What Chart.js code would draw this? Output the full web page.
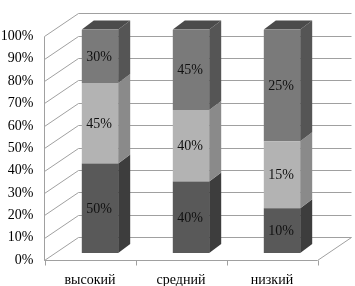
<!DOCTYPE html>
<html>
<head>
<meta charset="utf-8">
<script src="https://cdn.jsdelivr.net/npm/chart.js@4.4.1/dist/chart.umd.min.js"></script>
<style>
html, body { margin: 0; padding: 0; background: #fff; }
</style>
</head>
<body>
<canvas id="chart" width="355" height="286"></canvas>
<script>
// данные
const categories = ['высокий', 'средний', 'низкий'];
const series1 = [50, 40, 10];   // нижний, тёмный
const series2 = [45, 40, 15];   // средний, светлый
const series3 = [30, 45, 25];   // верхний
const yTicks = [0, 10, 20, 30, 40, 50, 60, 70, 80, 90, 100];

const totals = categories.map((c, i) => series1[i] + series2[i] + series3[i]);
const share = s => s.map((v, i) => v / totals[i] * 100);

const FONT = { family: '"Liberation Serif", "Times New Roman", serif', size: 14 };
// смещения псевдо-3D
const FRONT = { dx: -10, dy: 7 };   // передняя плоскость осей
const BACK = { dx: 24, dy: -16 };   // задняя стенка
const DEPTH = { dx: 12, dy: -9 };   // глубина столбика

const faces = [
    { front: '#595959', side: '#3d3d3d' },
    { front: '#b3b3b3', side: '#8a8a8a' },
    { front: '#7a7a7a', side: '#555555', top: '#4b4b4b' }
];
const raw = [series1, series2, series3];

const box3d = {
    id: 'box3d',
    beforeDatasetsDraw(chart) {
        const ctx = chart.ctx;
        const x = chart.scales.x, y = chart.scales.y;
        const l = chart.chartArea.left, r = chart.chartArea.right;
        ctx.save();
        ctx.strokeStyle = '#a0a0a0';
        ctx.lineWidth = 1;
        yTicks.forEach(v => {
            const py = Math.round(y.getPixelForValue(v)) + 0.5;
            ctx.beginPath();
            ctx.moveTo(l + FRONT.dx, py + FRONT.dy);
            ctx.lineTo(l + BACK.dx, py + BACK.dy);
            ctx.lineTo(r + BACK.dx, py + BACK.dy);
            ctx.stroke();
        });
        // пол
        const y0 = Math.round(y.getPixelForValue(0)) + 0.5;
        ctx.beginPath();
        ctx.moveTo(l + FRONT.dx, y0 + FRONT.dy);
        ctx.lineTo(r + FRONT.dx, y0 + FRONT.dy);
        ctx.lineTo(r + BACK.dx, y0 + BACK.dy);
        ctx.stroke();
        // передняя ось
        const yTop = Math.round(y.getPixelForValue(100)) + 0.5;
        ctx.beginPath();
        ctx.moveTo(l + FRONT.dx, yTop + FRONT.dy);
        ctx.lineTo(l + FRONT.dx, y0 + FRONT.dy);
        ctx.stroke();
        // засечки категорий
        for (let i = 0; i <= categories.length; i++) {
            const px = Math.round(l + (r - l) * i / categories.length + FRONT.dx) + 0.5;
            ctx.beginPath();
            ctx.moveTo(px, y0 + FRONT.dy);
            ctx.lineTo(px, y0 + FRONT.dy + 5);
            ctx.stroke();
        }
        ctx.restore();
    },
    afterDatasetsDraw(chart) {
        const ctx = chart.ctx;
        ctx.save();
        raw.forEach((vals, d) => {
            chart.getDatasetMeta(d).data.forEach(bar => {
                const xr = bar.x + bar.width / 2, xl = bar.x - bar.width / 2;
                ctx.fillStyle = faces[d].side;
                ctx.beginPath();
                ctx.moveTo(xr, bar.y);
                ctx.lineTo(xr + DEPTH.dx, bar.y + DEPTH.dy);
                ctx.lineTo(xr + DEPTH.dx, bar.base + DEPTH.dy);
                ctx.lineTo(xr, bar.base);
                ctx.closePath();
                ctx.fill();
                if (faces[d].top) {
                    ctx.fillStyle = faces[d].top;
                    ctx.beginPath();
                    ctx.moveTo(xl, bar.y);
                    ctx.lineTo(xl + DEPTH.dx, bar.y + DEPTH.dy);
                    ctx.lineTo(xr + DEPTH.dx, bar.y + DEPTH.dy);
                    ctx.lineTo(xr, bar.y);
                    ctx.closePath();
                    ctx.fill();
                }
            });
        });
        ctx.font = FONT.size + 'px ' + FONT.family;
        ctx.fillStyle = '#111';
        ctx.textAlign = 'center';
        ctx.textBaseline = 'middle';
        raw.forEach((vals, d) => {
            chart.getDatasetMeta(d).data.forEach((bar, i) => {
                ctx.fillText(vals[i] + '%', bar.x - 1, (bar.y + bar.base) / 2 + 1);
            });
        });
        ctx.restore();
    }
};

new Chart(document.getElementById('chart'), {
    type: 'bar',
    data: {
        labels: categories,
        datasets: raw.map((s, d) => ({
            data: share(s),
            backgroundColor: faces[d].front,
            borderWidth: 0,
            barPercentage: 0.4,
            categoryPercentage: 1
        }))
    },
    options: {
        responsive: false,
        devicePixelRatio: 1,
        animation: false,
        layout: { padding: { top: 20, right: 27.5, left: 0, bottom: 0 } },
        plugins: { legend: { display: false }, tooltip: { enabled: false } },
        scales: {
            x: {
                stacked: true,
                grid: { display: false, drawTicks: false },
                border: { display: false },
                ticks: { font: FONT, color: '#000', padding: 19, labelOffset: -10 },
                afterFit: s => { s.height = 33; }
            },
            y: {
                stacked: true,
                min: 0, max: 100,
                grid: { display: false, drawTicks: false },
                border: { display: false },
                ticks: {
                    stepSize: 10, font: FONT, color: '#000', padding: 21, labelOffset: 7,
                    callback: v => v + '%'
                },
                afterFit: s => { s.width = 54.5; }
            }
        }
    },
    plugins: [box3d]
});
</script>
</body>
</html>
